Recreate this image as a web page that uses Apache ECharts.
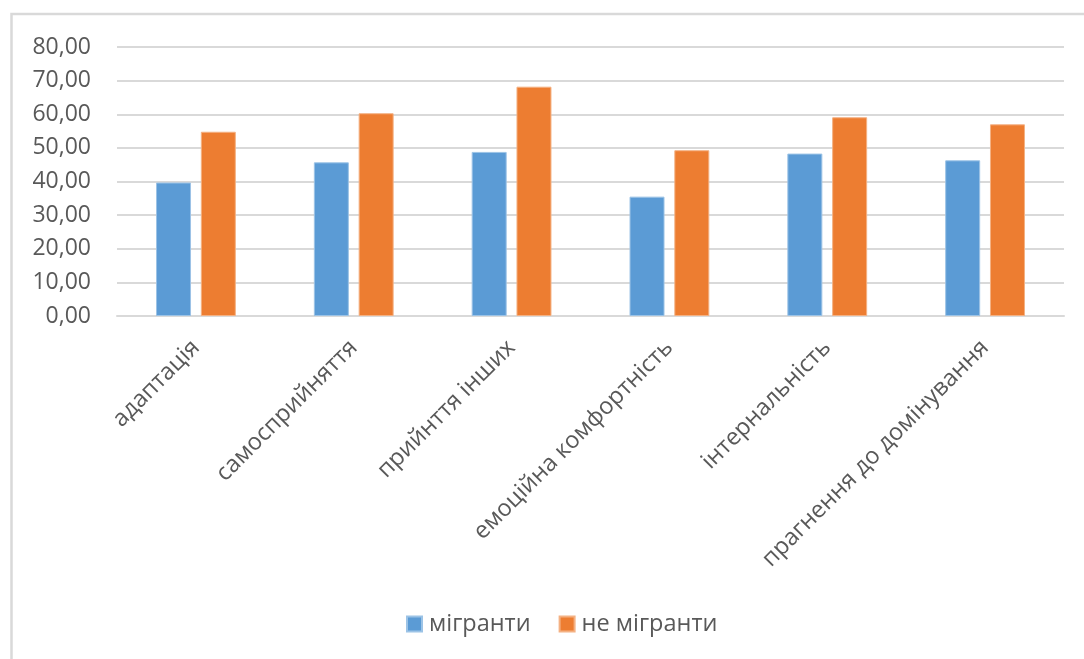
<!DOCTYPE html>
<html>
<head>
<meta charset="utf-8">
<script src="https://cdn.jsdelivr.net/npm/echarts@6/dist/echarts.min.js"></script>
<style>
  html, body { margin: 0; padding: 0; background: #fff; }
  #chart { width: 1084px; height: 659px; }
</style>
</head>
<body>
<div id="chart"></div>
<script>
// Шкали за групами: мігранти / не мігранти
const categories = ['адаптація', 'самосприйняття', 'прийнття інших', 'емоційна комфортність', 'інтернальність', 'прагнення до домінування'];
const migrants = [39.7, 45.7, 48.8, 35.5, 48.3, 46.3];
const nonMigrants = [54.8, 60.3, 68.2, 49.3, 59.1, 57.0];
const seriesNames = ['мігранти', 'не мігранти'];
const yTicks = { min: 0, max: 80, interval: 10 };

const FONT = '"Open Sans", "Noto Sans", sans-serif';
const TEXT = '#595959';
const LINE = '#d9d9d9';

const chart = echarts.init(document.getElementById('chart'), null, { renderer: 'canvas' });

chart.setOption({
  animation: false,
  backgroundColor: '#ffffff',
  textStyle: { fontFamily: FONT },
  graphic: [{
    type: 'polyline',
    silent: true,
    shape: { points: [[11.5, 700], [11.5, 14], [1100, 14]] },
    style: { stroke: LINE, lineWidth: 2.5, fill: null }
  }],
  grid: { left: 117, right: 20, top: 47, bottom: 343, containLabel: false },
  legend: {
    data: seriesNames,
    bottom: 18,
    left: 401,
    itemWidth: 15,
    itemHeight: 15,
    itemGap: 28,
    icon: 'rect',
    textStyle: { color: TEXT, fontSize: 23.5, fontFamily: FONT, padding: [0, 0, 0, 2] }
  },
  xAxis: {
    type: 'category',
    data: categories,
    axisLine: { show: true, lineStyle: { color: LINE, width: 2 } },
    axisTick: { show: false },
    axisLabel: {
      rotate: 45,
      margin: 28,
      color: TEXT,
      fontSize: 23.5,
      fontFamily: FONT,
      interval: 0
    }
  },
  yAxis: {
    type: 'value',
    min: yTicks.min,
    max: yTicks.max,
    interval: yTicks.interval,
    axisLine: { show: false },
    axisTick: { show: false },
    splitLine: { lineStyle: { color: LINE, width: 2 } },
    axisLabel: {
      margin: 26,
      color: TEXT,
      fontSize: 23,
      fontFamily: FONT,
      formatter: v => v.toFixed(2).replace('.', ',')
    }
  },
  series: [
    {
      name: seriesNames[0],
      type: 'bar',
      data: migrants,
      barWidth: 35,
      barGap: '28%',
      itemStyle: { color: '#5b9bd5', borderColor: '#9cc3e6', borderWidth: 1 }
    },
    {
      name: seriesNames[1],
      type: 'bar',
      data: nonMigrants,
      barWidth: 35,
      barGap: '28%',
      itemStyle: { color: '#ed7d31', borderColor: '#f4b183', borderWidth: 1 }
    }
  ]
});
</script>
</body>
</html>
